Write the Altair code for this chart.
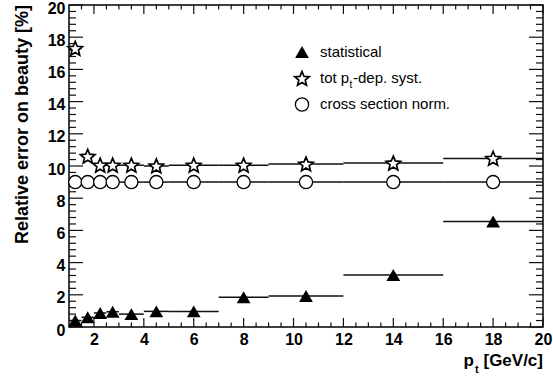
import math
import altair as alt
import pandas as pd

# ---- data ----
pt_low = [1.0, 1.5, 2.0, 2.5, 3.0, 4.0, 5.0, 7.0, 9.0, 12.0, 16.0]
pt_high = [1.5, 2.0, 2.5, 3.0, 4.0, 5.0, 7.0, 9.0, 12.0, 16.0, 20.0]
pt_center = [1.25, 1.75, 2.25, 2.75, 3.5, 4.5, 6.0, 8.0, 10.5, 14.0, 18.0]
stat_err = [0.4, 0.6, 0.87, 0.95, 0.8, 0.97, 0.97, 1.85, 1.93, 3.23, 6.55]
syst_err = [17.3, 10.6, 10.05, 10.05, 10.05, 10.0, 10.05, 10.05, 10.12, 10.18, 10.47]
norm_err = [9.0, 9.0, 9.0, 9.0, 9.0, 9.0, 9.0, 9.0, 9.0, 9.0, 9.0]

x_major = [2, 4, 6, 8, 10, 12, 14, 16, 18, 20]
x_minor = [1.5, 2.5, 3, 3.5, 4.5, 5, 5.5, 6.5, 7, 7.5, 8.5, 9, 9.5, 10.5, 11, 11.5,
           12.5, 13, 13.5, 14.5, 15, 15.5, 16.5, 17, 17.5, 18.5, 19, 19.5]
y_major = [0, 2, 4, 6, 8, 10, 12, 14, 16, 18, 20]
y_minor = [0.4, 0.8, 1.2, 1.6, 2.4, 2.8, 3.2, 3.6, 4.4, 4.8, 5.2, 5.6, 6.4, 6.8, 7.2, 7.6,
           8.4, 8.8, 9.2, 9.6, 10.4, 10.8, 11.2, 11.6, 12.4, 12.8, 13.2, 13.6, 14.4, 14.8,
           15.2, 15.6, 16.4, 16.8, 17.2, 17.6, 18.4, 18.8, 19.2, 19.6]

legend_labels = ["statistical", "tot p", "t", "-dep. syst.", "cross section norm."]
x_title = ["p", "t", "[GeV/c]"]
y_title = "Relative error on beauty [%]"

W, H = 474, 322
FONT = "Liberation Sans"
INK = "#111111"

df = pd.DataFrame({"lo": pt_low, "hi": pt_high, "pt": pt_center,
                   "stat": stat_err, "syst": syst_err, "norm": norm_err})

# star symbol path (style only)
pts = []
for k in range(10):
    r = 1.0 if k % 2 == 0 else 0.45
    a = math.radians(-90 + 36 * k)
    pts.append(f"{r * math.cos(a):.3f},{r * math.sin(a) + 0.08:.3f}")
STAR = "M" + "L".join(pts) + "Z"

xs = alt.Scale(domain=[1, 20], nice=False, zero=False)
ys = alt.Scale(domain=[0, 20], nice=False, zero=False)

x_axis = alt.Axis(values=x_major, ticks=False, domain=False, grid=False,
                  labelFont=FONT, labelFontWeight="bold", labelFontSize=16,
                  labelColor="black", labelPadding=4, labelFlush=False,
                  labelOverlap=False, title=None)
y_axis = alt.Axis(values=y_major, ticks=False, domain=False, grid=False,
                  labelFont=FONT, labelFontWeight="bold", labelFontSize=16,
                  labelColor="black", labelPadding=4, labelOffset=3, labelFlush=False,
                  labelOverlap=False, title=None)


def X(f):
    return alt.X(f, scale=xs, axis=x_axis)


def Y(f):
    return alt.Y(f, scale=ys, axis=y_axis)


base = alt.Chart(df)


def seg(field):
    return base.mark_rule(color=INK, strokeWidth=1.5).encode(
        x=X("lo:Q"), x2="hi:Q", y=Y(f"{field}:Q"))


stat_seg = seg("stat")
syst_seg = seg("syst")
norm_seg = seg("norm")

tri = base.mark_point(shape="triangle-up", filled=True, fill="black", size=190,
                      strokeWidth=0, opacity=1).encode(x=X("pt:Q"), y=Y("stat:Q"))
star = base.mark_point(shape=STAR, filled=True, fill="white", stroke="black",
                       strokeWidth=1.7, size=230, opacity=1).encode(x=X("pt:Q"), y=Y("syst:Q"))
circ = base.mark_point(shape="circle", filled=True, fill="white", stroke="black",
                       strokeWidth=1.3, size=175, opacity=1).encode(x=X("pt:Q"), y=Y("norm:Q"))

# ---- ticks (inside, all four sides) ----
dxM = pd.DataFrame({"v": x_major})
dxm = pd.DataFrame({"v": x_minor})
dyM = pd.DataFrame({"v": y_major})
dym = pd.DataFrame({"v": y_minor})


def xt(d, y0, y1):
    return alt.Chart(d).mark_rule(color=INK, strokeWidth=1.2).encode(
        x=X("v:Q"), y=alt.value(y0), y2=alt.value(y1))


def yt(d, x0, x1):
    return alt.Chart(d).mark_rule(color=INK, strokeWidth=1.2).encode(
        y=Y("v:Q"), x=alt.value(x0), x2=alt.value(x1))


ticks = [
    xt(dxM, H, H - 9), xt(dxm, H, H - 4.5), xt(dxM, 0, 9), xt(dxm, 0, 4.5),
    yt(dyM, 0, 14), yt(dym, 0, 7), yt(dyM, W, W - 14), yt(dym, W, W - 7),
]

one = alt.Data(values=[{"a": 1}])


def txt(text, x, y, size, weight="normal", align="left", angle=0):
    return alt.Chart(one).mark_text(text=text, font=FONT, fontSize=size, fontWeight=weight,
                                    align=align, baseline="alphabetic", color="black",
                                    angle=angle).encode(x=alt.value(x), y=alt.value(y))


def sym(shape, x, y, size, fill, sw):
    return alt.Chart(one).mark_point(shape=shape, filled=True, fill=fill, stroke="black",
                                     strokeWidth=sw, size=size, opacity=1).encode(
        x=alt.value(x), y=alt.value(y))


legend = [
    sym("triangle-up", 233, 47, 190, "black", 0),
    txt(legend_labels[0], 251, 52, 15),
    sym(STAR, 233, 73.5, 230, "white", 1.7),
    txt(legend_labels[1], 251, 78, 15),
    txt(legend_labels[2], 280.5, 83, 10),
    txt(legend_labels[3], 284, 78, 15),
    sym("circle", 233, 99.5, 175, "white", 1.3),
    txt(legend_labels[4], 251, 104, 15),
]

titles = [
    txt(x_title[0], 405, 361, 17, "bold", "right"),
    txt(x_title[1], 406, 368, 11, "bold", "left"),
    txt(x_title[2], W, 361, 17, "bold", "right"),
    txt(y_title, -41, 0, 18, "bold", "right", 270),
]

chart = alt.layer(
    norm_seg, syst_seg, stat_seg, *ticks, circ, star, tri, *legend, *titles
).properties(
    width=W, height=H,
    padding={"left": 69, "top": 5, "right": 10, "bottom": 49},
    autosize=alt.AutoSizeParams(type="none"),
).configure_view(stroke="black", strokeWidth=1.5)

chart.save("out.html", embed_options={"renderer": "svg", "actions": False})
